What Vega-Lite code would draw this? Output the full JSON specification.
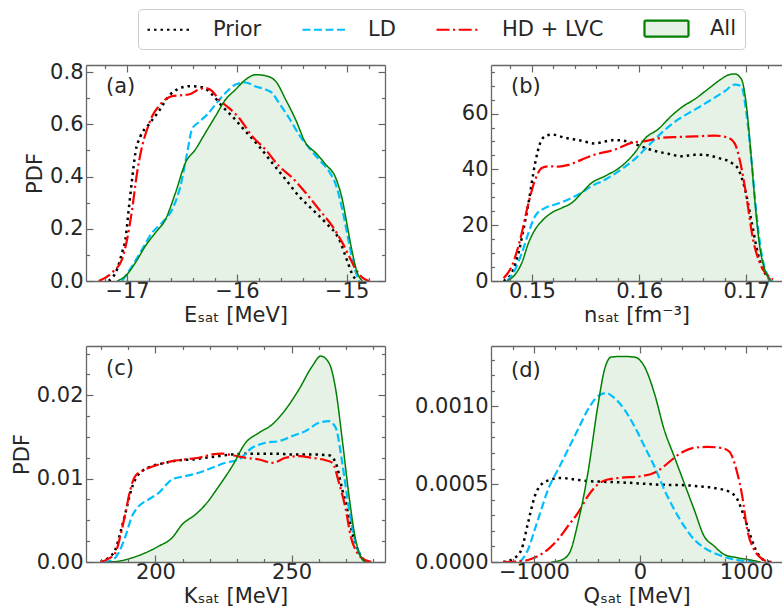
{
"$schema":"https://vega.github.io/schema/vega-lite/v6.json",
"autosize":{"type":"pad"},
"padding":{"left":11,"top":8,"right":0,"bottom":0},
"bounds":"flush",
"data":{"name":"pdf"},
"datasets":{"pdf":[
{"p":"a","s":"Prior","x":-17.167,"y":0},{"p":"a","s":"Prior","x":-17.091,"y":0.045},{"p":"a","s":"Prior","x":-17.046,"y":0.108},{"p":"a","s":"Prior","x":-17.015,"y":0.159},{"p":"a","s":"Prior","x":-16.985,"y":0.274},{"p":"a","s":"Prior","x":-16.954,"y":0.389},{"p":"a","s":"Prior","x":-16.924,"y":0.491},{"p":"a","s":"Prior","x":-16.878,"y":0.554},{"p":"a","s":"Prior","x":-16.802,"y":0.599},{"p":"a","s":"Prior","x":-16.711,"y":0.65},{"p":"a","s":"Prior","x":-16.62,"y":0.708},{"p":"a","s":"Prior","x":-16.529,"y":0.736},{"p":"a","s":"Prior","x":-16.422,"y":0.746},{"p":"a","s":"Prior","x":-16.316,"y":0.742},{"p":"a","s":"Prior","x":-16.225,"y":0.714},{"p":"a","s":"Prior","x":-16.134,"y":0.669},{"p":"a","s":"Prior","x":-16.043,"y":0.631},{"p":"a","s":"Prior","x":-15.921,"y":0.573},{"p":"a","s":"Prior","x":-15.799,"y":0.516},{"p":"a","s":"Prior","x":-15.678,"y":0.452},{"p":"a","s":"Prior","x":-15.556,"y":0.389},{"p":"a","s":"Prior","x":-15.435,"y":0.325},{"p":"a","s":"Prior","x":-15.313,"y":0.274},{"p":"a","s":"Prior","x":-15.191,"y":0.223},{"p":"a","s":"Prior","x":-15.07,"y":0.16},{"p":"a","s":"Prior","x":-14.994,"y":0.076},{"p":"a","s":"Prior","x":-14.948,"y":0.025},{"p":"a","s":"Prior","x":-14.903,"y":0},
{"p":"a","s":"LD","x":-17.046,"y":0},{"p":"a","s":"LD","x":-16.954,"y":0.057},{"p":"a","s":"LD","x":-16.863,"y":0.121},{"p":"a","s":"LD","x":-16.772,"y":0.185},{"p":"a","s":"LD","x":-16.681,"y":0.223},{"p":"a","s":"LD","x":-16.59,"y":0.274},{"p":"a","s":"LD","x":-16.514,"y":0.363},{"p":"a","s":"LD","x":-16.453,"y":0.49},{"p":"a","s":"LD","x":-16.407,"y":0.583},{"p":"a","s":"LD","x":-16.347,"y":0.608},{"p":"a","s":"LD","x":-16.271,"y":0.637},{"p":"a","s":"LD","x":-16.195,"y":0.676},{"p":"a","s":"LD","x":-16.103,"y":0.72},{"p":"a","s":"LD","x":-16.012,"y":0.752},{"p":"a","s":"LD","x":-15.921,"y":0.76},{"p":"a","s":"LD","x":-15.83,"y":0.745},{"p":"a","s":"LD","x":-15.739,"y":0.733},{"p":"a","s":"LD","x":-15.678,"y":0.72},{"p":"a","s":"LD","x":-15.617,"y":0.682},{"p":"a","s":"LD","x":-15.526,"y":0.625},{"p":"a","s":"LD","x":-15.435,"y":0.561},{"p":"a","s":"LD","x":-15.343,"y":0.51},{"p":"a","s":"LD","x":-15.252,"y":0.465},{"p":"a","s":"LD","x":-15.161,"y":0.42},{"p":"a","s":"LD","x":-15.1,"y":0.37},{"p":"a","s":"LD","x":-15.04,"y":0.274},{"p":"a","s":"LD","x":-14.979,"y":0.146},{"p":"a","s":"LD","x":-14.933,"y":0.057},{"p":"a","s":"LD","x":-14.887,"y":0},
{"p":"a","s":"HD + LVC","x":-17.258,"y":0},{"p":"a","s":"HD + LVC","x":-17.137,"y":0.032},{"p":"a","s":"HD + LVC","x":-17.046,"y":0.083},{"p":"a","s":"HD + LVC","x":-17.0,"y":0.159},{"p":"a","s":"HD + LVC","x":-16.954,"y":0.274},{"p":"a","s":"HD + LVC","x":-16.909,"y":0.414},{"p":"a","s":"HD + LVC","x":-16.863,"y":0.516},{"p":"a","s":"HD + LVC","x":-16.818,"y":0.58},{"p":"a","s":"HD + LVC","x":-16.772,"y":0.631},{"p":"a","s":"HD + LVC","x":-16.711,"y":0.669},{"p":"a","s":"HD + LVC","x":-16.65,"y":0.695},{"p":"a","s":"HD + LVC","x":-16.59,"y":0.708},{"p":"a","s":"HD + LVC","x":-16.514,"y":0.711},{"p":"a","s":"HD + LVC","x":-16.438,"y":0.714},{"p":"a","s":"HD + LVC","x":-16.347,"y":0.733},{"p":"a","s":"HD + LVC","x":-16.286,"y":0.739},{"p":"a","s":"HD + LVC","x":-16.225,"y":0.727},{"p":"a","s":"HD + LVC","x":-16.164,"y":0.695},{"p":"a","s":"HD + LVC","x":-16.073,"y":0.663},{"p":"a","s":"HD + LVC","x":-15.982,"y":0.625},{"p":"a","s":"HD + LVC","x":-15.86,"y":0.554},{"p":"a","s":"HD + LVC","x":-15.739,"y":0.503},{"p":"a","s":"HD + LVC","x":-15.617,"y":0.44},{"p":"a","s":"HD + LVC","x":-15.495,"y":0.395},{"p":"a","s":"HD + LVC","x":-15.374,"y":0.338},{"p":"a","s":"HD + LVC","x":-15.252,"y":0.274},{"p":"a","s":"HD + LVC","x":-15.131,"y":0.21},{"p":"a","s":"HD + LVC","x":-15.04,"y":0.147},{"p":"a","s":"HD + LVC","x":-14.979,"y":0.096},{"p":"a","s":"HD + LVC","x":-14.918,"y":0.045},{"p":"a","s":"HD + LVC","x":-14.857,"y":0.013},{"p":"a","s":"HD + LVC","x":-14.796,"y":0},
{"p":"a","s":"All","x":-17.091,"y":0},{"p":"a","s":"All","x":-17.015,"y":0.019},{"p":"a","s":"All","x":-16.924,"y":0.07},{"p":"a","s":"All","x":-16.833,"y":0.134},{"p":"a","s":"All","x":-16.742,"y":0.185},{"p":"a","s":"All","x":-16.65,"y":0.236},{"p":"a","s":"All","x":-16.559,"y":0.338},{"p":"a","s":"All","x":-16.468,"y":0.453},{"p":"a","s":"All","x":-16.377,"y":0.504},{"p":"a","s":"All","x":-16.286,"y":0.568},{"p":"a","s":"All","x":-16.195,"y":0.631},{"p":"a","s":"All","x":-16.103,"y":0.695},{"p":"a","s":"All","x":-16.012,"y":0.733},{"p":"a","s":"All","x":-15.921,"y":0.771},{"p":"a","s":"All","x":-15.83,"y":0.79},{"p":"a","s":"All","x":-15.739,"y":0.786},{"p":"a","s":"All","x":-15.647,"y":0.765},{"p":"a","s":"All","x":-15.556,"y":0.695},{"p":"a","s":"All","x":-15.465,"y":0.618},{"p":"a","s":"All","x":-15.374,"y":0.529},{"p":"a","s":"All","x":-15.283,"y":0.491},{"p":"a","s":"All","x":-15.191,"y":0.446},{"p":"a","s":"All","x":-15.1,"y":0.395},{"p":"a","s":"All","x":-15.04,"y":0.312},{"p":"a","s":"All","x":-14.994,"y":0.21},{"p":"a","s":"All","x":-14.948,"y":0.108},{"p":"a","s":"All","x":-14.903,"y":0.032},{"p":"a","s":"All","x":-14.857,"y":0},
{"p":"b","s":"Prior","x":0.14736,"y":0},{"p":"b","s":"Prior","x":0.14814,"y":3.0},{"p":"b","s":"Prior","x":0.14876,"y":10.1},{"p":"b","s":"Prior","x":0.14922,"y":18.5},{"p":"b","s":"Prior","x":0.14969,"y":28.0},{"p":"b","s":"Prior","x":0.15031,"y":42.3},{"p":"b","s":"Prior","x":0.15078,"y":49.5},{"p":"b","s":"Prior","x":0.15124,"y":51.9},{"p":"b","s":"Prior","x":0.15186,"y":52.5},{"p":"b","s":"Prior","x":0.1531,"y":51.3},{"p":"b","s":"Prior","x":0.15434,"y":50.5},{"p":"b","s":"Prior","x":0.15589,"y":49.3},{"p":"b","s":"Prior","x":0.15682,"y":50.0},{"p":"b","s":"Prior","x":0.15775,"y":50.5},{"p":"b","s":"Prior","x":0.15899,"y":49.9},{"p":"b","s":"Prior","x":0.16022,"y":48.2},{"p":"b","s":"Prior","x":0.16147,"y":46.6},{"p":"b","s":"Prior","x":0.16271,"y":45.6},{"p":"b","s":"Prior","x":0.16395,"y":44.7},{"p":"b","s":"Prior","x":0.1652,"y":45.2},{"p":"b","s":"Prior","x":0.16612,"y":45.2},{"p":"b","s":"Prior","x":0.16736,"y":44.1},{"p":"b","s":"Prior","x":0.1686,"y":42.4},{"p":"b","s":"Prior","x":0.16922,"y":40.2},{"p":"b","s":"Prior","x":0.16984,"y":33.4},{"p":"b","s":"Prior","x":0.17047,"y":21.5},{"p":"b","s":"Prior","x":0.17109,"y":9.5},{"p":"b","s":"Prior","x":0.17171,"y":3.0},{"p":"b","s":"Prior","x":0.17233,"y":0},
{"p":"b","s":"LD","x":0.14767,"y":0},{"p":"b","s":"LD","x":0.14845,"y":4.2},{"p":"b","s":"LD","x":0.14907,"y":10.1},{"p":"b","s":"LD","x":0.14969,"y":17.3},{"p":"b","s":"LD","x":0.15031,"y":23.3},{"p":"b","s":"LD","x":0.15124,"y":26.2},{"p":"b","s":"LD","x":0.15217,"y":27.4},{"p":"b","s":"LD","x":0.15341,"y":29.2},{"p":"b","s":"LD","x":0.15434,"y":31.0},{"p":"b","s":"LD","x":0.15558,"y":34.0},{"p":"b","s":"LD","x":0.15682,"y":36.3},{"p":"b","s":"LD","x":0.15837,"y":40.1},{"p":"b","s":"LD","x":0.1596,"y":43.7},{"p":"b","s":"LD","x":0.16084,"y":48.4},{"p":"b","s":"LD","x":0.16209,"y":53.1},{"p":"b","s":"LD","x":0.16364,"y":57.9},{"p":"b","s":"LD","x":0.1652,"y":61.4},{"p":"b","s":"LD","x":0.16674,"y":65.0},{"p":"b","s":"LD","x":0.16798,"y":68.0},{"p":"b","s":"LD","x":0.16891,"y":70.4},{"p":"b","s":"LD","x":0.16953,"y":69.8},{"p":"b","s":"LD","x":0.17,"y":60.2},{"p":"b","s":"LD","x":0.17047,"y":43.5},{"p":"b","s":"LD","x":0.17093,"y":24.4},{"p":"b","s":"LD","x":0.1714,"y":10.1},{"p":"b","s":"LD","x":0.17202,"y":1.8},{"p":"b","s":"LD","x":0.17248,"y":0},
{"p":"b","s":"HD + LVC","x":0.14736,"y":1.0},{"p":"b","s":"HD + LVC","x":0.14814,"y":5.4},{"p":"b","s":"HD + LVC","x":0.14891,"y":14.9},{"p":"b","s":"HD + LVC","x":0.14969,"y":28.0},{"p":"b","s":"HD + LVC","x":0.15031,"y":36.3},{"p":"b","s":"HD + LVC","x":0.15093,"y":40.5},{"p":"b","s":"HD + LVC","x":0.15155,"y":41.1},{"p":"b","s":"HD + LVC","x":0.15248,"y":41.0},{"p":"b","s":"HD + LVC","x":0.15341,"y":41.6},{"p":"b","s":"HD + LVC","x":0.15465,"y":43.5},{"p":"b","s":"HD + LVC","x":0.15589,"y":45.3},{"p":"b","s":"HD + LVC","x":0.15775,"y":47.1},{"p":"b","s":"HD + LVC","x":0.15929,"y":49.5},{"p":"b","s":"HD + LVC","x":0.16053,"y":50.1},{"p":"b","s":"HD + LVC","x":0.16209,"y":51.3},{"p":"b","s":"HD + LVC","x":0.16364,"y":51.6},{"p":"b","s":"HD + LVC","x":0.1652,"y":51.8},{"p":"b","s":"HD + LVC","x":0.16705,"y":52.1},{"p":"b","s":"HD + LVC","x":0.1683,"y":51.3},{"p":"b","s":"HD + LVC","x":0.16891,"y":49.3},{"p":"b","s":"HD + LVC","x":0.16938,"y":43.4},{"p":"b","s":"HD + LVC","x":0.17,"y":30.4},{"p":"b","s":"HD + LVC","x":0.17062,"y":14.9},{"p":"b","s":"HD + LVC","x":0.17124,"y":6.6},{"p":"b","s":"HD + LVC","x":0.17202,"y":1.8},{"p":"b","s":"HD + LVC","x":0.17248,"y":0.6},
{"p":"b","s":"All","x":0.14767,"y":0},{"p":"b","s":"All","x":0.14845,"y":2.4},{"p":"b","s":"All","x":0.14907,"y":6.6},{"p":"b","s":"All","x":0.14969,"y":13.7},{"p":"b","s":"All","x":0.15031,"y":18.5},{"p":"b","s":"All","x":0.15093,"y":21.5},{"p":"b","s":"All","x":0.15186,"y":24.5},{"p":"b","s":"All","x":0.15279,"y":26.2},{"p":"b","s":"All","x":0.15372,"y":28.0},{"p":"b","s":"All","x":0.15465,"y":31.6},{"p":"b","s":"All","x":0.15558,"y":35.2},{"p":"b","s":"All","x":0.15682,"y":37.6},{"p":"b","s":"All","x":0.15837,"y":41.2},{"p":"b","s":"All","x":0.1596,"y":46.0},{"p":"b","s":"All","x":0.16053,"y":51.0},{"p":"b","s":"All","x":0.16178,"y":54.4},{"p":"b","s":"All","x":0.16302,"y":59.2},{"p":"b","s":"All","x":0.16395,"y":62.2},{"p":"b","s":"All","x":0.1652,"y":65.2},{"p":"b","s":"All","x":0.16643,"y":68.8},{"p":"b","s":"All","x":0.16767,"y":72.4},{"p":"b","s":"All","x":0.16829,"y":73.8},{"p":"b","s":"All","x":0.16891,"y":74.2},{"p":"b","s":"All","x":0.16953,"y":72.4},{"p":"b","s":"All","x":0.17,"y":62.9},{"p":"b","s":"All","x":0.17047,"y":43.5},{"p":"b","s":"All","x":0.17078,"y":29.2},{"p":"b","s":"All","x":0.17124,"y":12.5},{"p":"b","s":"All","x":0.17171,"y":4.2},{"p":"b","s":"All","x":0.17233,"y":0},
{"p":"c","s":"Prior","x":179.8,"y":0},{"p":"c","s":"Prior","x":182.8,"y":0.00052},{"p":"c","s":"Prior","x":185.3,"y":0.0015},{"p":"c","s":"Prior","x":187.1,"y":0.0035},{"p":"c","s":"Prior","x":189.0,"y":0.0059},{"p":"c","s":"Prior","x":190.8,"y":0.0083},{"p":"c","s":"Prior","x":192.6,"y":0.0099},{"p":"c","s":"Prior","x":195.1,"y":0.0109},{"p":"c","s":"Prior","x":198.8,"y":0.0115},{"p":"c","s":"Prior","x":203.7,"y":0.0119},{"p":"c","s":"Prior","x":208.6,"y":0.0122},{"p":"c","s":"Prior","x":213.5,"y":0.0123},{"p":"c","s":"Prior","x":218.4,"y":0.0125},{"p":"c","s":"Prior","x":223.3,"y":0.0127},{"p":"c","s":"Prior","x":228.2,"y":0.0129},{"p":"c","s":"Prior","x":233.1,"y":0.013},{"p":"c","s":"Prior","x":238.0,"y":0.013},{"p":"c","s":"Prior","x":244.1,"y":0.013},{"p":"c","s":"Prior","x":250.2,"y":0.0129},{"p":"c","s":"Prior","x":257.6,"y":0.0129},{"p":"c","s":"Prior","x":263.7,"y":0.0128},{"p":"c","s":"Prior","x":266.2,"y":0.0119},{"p":"c","s":"Prior","x":268.6,"y":0.0087},{"p":"c","s":"Prior","x":270.5,"y":0.0063},{"p":"c","s":"Prior","x":272.3,"y":0.0035},{"p":"c","s":"Prior","x":274.8,"y":0.0011},{"p":"c","s":"Prior","x":277.2,"y":0.0001},{"p":"c","s":"Prior","x":278.4,"y":0},
{"p":"c","s":"LD","x":181.0,"y":0},{"p":"c","s":"LD","x":184.1,"y":0.0002},{"p":"c","s":"LD","x":186.5,"y":0.0011},{"p":"c","s":"LD","x":189.0,"y":0.0031},{"p":"c","s":"LD","x":191.4,"y":0.0055},{"p":"c","s":"LD","x":193.9,"y":0.0067},{"p":"c","s":"LD","x":197.5,"y":0.0075},{"p":"c","s":"LD","x":201.2,"y":0.0083},{"p":"c","s":"LD","x":206.1,"y":0.0099},{"p":"c","s":"LD","x":211.0,"y":0.0103},{"p":"c","s":"LD","x":215.9,"y":0.0107},{"p":"c","s":"LD","x":220.8,"y":0.0113},{"p":"c","s":"LD","x":225.7,"y":0.0119},{"p":"c","s":"LD","x":230.6,"y":0.0123},{"p":"c","s":"LD","x":235.5,"y":0.0137},{"p":"c","s":"LD","x":240.4,"y":0.0143},{"p":"c","s":"LD","x":245.3,"y":0.0145},{"p":"c","s":"LD","x":250.2,"y":0.0151},{"p":"c","s":"LD","x":255.1,"y":0.0157},{"p":"c","s":"LD","x":260.0,"y":0.0167},{"p":"c","s":"LD","x":263.7,"y":0.0169},{"p":"c","s":"LD","x":266.2,"y":0.0161},{"p":"c","s":"LD","x":268.6,"y":0.0119},{"p":"c","s":"LD","x":271.1,"y":0.0063},{"p":"c","s":"LD","x":273.5,"y":0.0023},{"p":"c","s":"LD","x":276.0,"y":0.0005},{"p":"c","s":"LD","x":277.2,"y":0},
{"p":"c","s":"HD + LVC","x":179.8,"y":0},{"p":"c","s":"HD + LVC","x":182.8,"y":0.0004},{"p":"c","s":"HD + LVC","x":185.3,"y":0.0011},{"p":"c","s":"HD + LVC","x":187.1,"y":0.0031},{"p":"c","s":"HD + LVC","x":189.0,"y":0.0059},{"p":"c","s":"HD + LVC","x":190.8,"y":0.0087},{"p":"c","s":"HD + LVC","x":192.6,"y":0.0103},{"p":"c","s":"HD + LVC","x":196.3,"y":0.0111},{"p":"c","s":"HD + LVC","x":201.2,"y":0.0117},{"p":"c","s":"HD + LVC","x":206.1,"y":0.0121},{"p":"c","s":"HD + LVC","x":211.0,"y":0.0123},{"p":"c","s":"HD + LVC","x":215.9,"y":0.0125},{"p":"c","s":"HD + LVC","x":220.8,"y":0.0129},{"p":"c","s":"HD + LVC","x":224.5,"y":0.013},{"p":"c","s":"HD + LVC","x":228.2,"y":0.0128},{"p":"c","s":"HD + LVC","x":233.1,"y":0.0125},{"p":"c","s":"HD + LVC","x":238.0,"y":0.0123},{"p":"c","s":"HD + LVC","x":242.9,"y":0.0119},{"p":"c","s":"HD + LVC","x":247.8,"y":0.0125},{"p":"c","s":"HD + LVC","x":252.7,"y":0.0127},{"p":"c","s":"HD + LVC","x":257.6,"y":0.0125},{"p":"c","s":"HD + LVC","x":262.5,"y":0.0122},{"p":"c","s":"HD + LVC","x":265.0,"y":0.0119},{"p":"c","s":"HD + LVC","x":267.4,"y":0.0095},{"p":"c","s":"HD + LVC","x":269.9,"y":0.0063},{"p":"c","s":"HD + LVC","x":271.7,"y":0.0031},{"p":"c","s":"HD + LVC","x":274.1,"y":0.0011},{"p":"c","s":"HD + LVC","x":277.2,"y":0.0002},{"p":"c","s":"HD + LVC","x":279.7,"y":0},
{"p":"c","s":"All","x":182.8,"y":0},{"p":"c","s":"All","x":186.5,"y":0.0001},{"p":"c","s":"All","x":191.4,"y":0.0005},{"p":"c","s":"All","x":196.3,"y":0.0011},{"p":"c","s":"All","x":201.2,"y":0.0019},{"p":"c","s":"All","x":206.1,"y":0.0029},{"p":"c","s":"All","x":209.8,"y":0.0045},{"p":"c","s":"All","x":214.7,"y":0.0057},{"p":"c","s":"All","x":218.4,"y":0.0069},{"p":"c","s":"All","x":223.3,"y":0.0091},{"p":"c","s":"All","x":228.2,"y":0.0115},{"p":"c","s":"All","x":233.1,"y":0.0143},{"p":"c","s":"All","x":238.0,"y":0.0155},{"p":"c","s":"All","x":242.9,"y":0.0165},{"p":"c","s":"All","x":247.8,"y":0.0183},{"p":"c","s":"All","x":252.7,"y":0.0207},{"p":"c","s":"All","x":257.6,"y":0.0235},{"p":"c","s":"All","x":260.7,"y":0.0247},{"p":"c","s":"All","x":263.7,"y":0.0239},{"p":"c","s":"All","x":266.2,"y":0.0207},{"p":"c","s":"All","x":268.6,"y":0.0147},{"p":"c","s":"All","x":271.1,"y":0.0079},{"p":"c","s":"All","x":273.5,"y":0.0027},{"p":"c","s":"All","x":276.0,"y":0.0003},{"p":"c","s":"All","x":277.2,"y":0},
{"p":"d","s":"Prior","x":-1290,"y":0},{"p":"d","s":"Prior","x":-1180,"y":0.0000278},{"p":"d","s":"Prior","x":-1117,"y":0.0000812},{"p":"d","s":"Prior","x":-1055,"y":0.000254},{"p":"d","s":"Prior","x":-992,"y":0.000423},{"p":"d","s":"Prior","x":-930,"y":0.000498},{"p":"d","s":"Prior","x":-836,"y":0.00053},{"p":"d","s":"Prior","x":-742,"y":0.00054},{"p":"d","s":"Prior","x":-617,"y":0.00053},{"p":"d","s":"Prior","x":-491,"y":0.00052},{"p":"d","s":"Prior","x":-335,"y":0.000515},{"p":"d","s":"Prior","x":-178,"y":0.000511},{"p":"d","s":"Prior","x":9,"y":0.000504},{"p":"d","s":"Prior","x":197,"y":0.000496},{"p":"d","s":"Prior","x":385,"y":0.000494},{"p":"d","s":"Prior","x":573,"y":0.000485},{"p":"d","s":"Prior","x":729,"y":0.000472},{"p":"d","s":"Prior","x":854,"y":0.000447},{"p":"d","s":"Prior","x":917,"y":0.000404},{"p":"d","s":"Prior","x":980,"y":0.000295},{"p":"d","s":"Prior","x":1042,"y":0.000167},{"p":"d","s":"Prior","x":1105,"y":0.0000598},{"p":"d","s":"Prior","x":1167,"y":0.0000128},{"p":"d","s":"Prior","x":1230,"y":0},
{"p":"d","s":"LD","x":-1133,"y":0},{"p":"d","s":"LD","x":-1055,"y":0.0000812},{"p":"d","s":"LD","x":-992,"y":0.000209},{"p":"d","s":"LD","x":-930,"y":0.000338},{"p":"d","s":"LD","x":-867,"y":0.000466},{"p":"d","s":"LD","x":-773,"y":0.000594},{"p":"d","s":"LD","x":-679,"y":0.000722},{"p":"d","s":"LD","x":-585,"y":0.000851},{"p":"d","s":"LD","x":-491,"y":0.000979},{"p":"d","s":"LD","x":-398,"y":0.001064},{"p":"d","s":"LD","x":-319,"y":0.001085},{"p":"d","s":"LD","x":-241,"y":0.001053},{"p":"d","s":"LD","x":-147,"y":0.000979},{"p":"d","s":"LD","x":-53,"y":0.000872},{"p":"d","s":"LD","x":41,"y":0.000744},{"p":"d","s":"LD","x":135,"y":0.000615},{"p":"d","s":"LD","x":228,"y":0.000466},{"p":"d","s":"LD","x":322,"y":0.000338},{"p":"d","s":"LD","x":416,"y":0.000231},{"p":"d","s":"LD","x":510,"y":0.000145},{"p":"d","s":"LD","x":604,"y":0.0000919},{"p":"d","s":"LD","x":729,"y":0.0000491},{"p":"d","s":"LD","x":854,"y":0.0000214},{"p":"d","s":"LD","x":980,"y":0.0000064},{"p":"d","s":"LD","x":1074,"y":0},
{"p":"d","s":"HD + LVC","x":-1290,"y":0},{"p":"d","s":"HD + LVC","x":-1149,"y":0.0000043},{"p":"d","s":"HD + LVC","x":-1055,"y":0.0000128},{"p":"d","s":"HD + LVC","x":-961,"y":0.0000385},{"p":"d","s":"HD + LVC","x":-867,"y":0.0000812},{"p":"d","s":"HD + LVC","x":-773,"y":0.000145},{"p":"d","s":"HD + LVC","x":-679,"y":0.000231},{"p":"d","s":"HD + LVC","x":-585,"y":0.000316},{"p":"d","s":"HD + LVC","x":-491,"y":0.000423},{"p":"d","s":"HD + LVC","x":-398,"y":0.000498},{"p":"d","s":"HD + LVC","x":-304,"y":0.00053},{"p":"d","s":"HD + LVC","x":-178,"y":0.000541},{"p":"d","s":"HD + LVC","x":9,"y":0.000551},{"p":"d","s":"HD + LVC","x":135,"y":0.000573},{"p":"d","s":"HD + LVC","x":228,"y":0.000615},{"p":"d","s":"HD + LVC","x":322,"y":0.000669},{"p":"d","s":"HD + LVC","x":416,"y":0.000711},{"p":"d","s":"HD + LVC","x":510,"y":0.000733},{"p":"d","s":"HD + LVC","x":635,"y":0.000739},{"p":"d","s":"HD + LVC","x":761,"y":0.000733},{"p":"d","s":"HD + LVC","x":839,"y":0.000711},{"p":"d","s":"HD + LVC","x":917,"y":0.000572},{"p":"d","s":"HD + LVC","x":964,"y":0.000423},{"p":"d","s":"HD + LVC","x":1011,"y":0.000209},{"p":"d","s":"HD + LVC","x":1074,"y":0.0000812},{"p":"d","s":"HD + LVC","x":1136,"y":0.0000278},{"p":"d","s":"HD + LVC","x":1199,"y":0.0000043},{"p":"d","s":"HD + LVC","x":1261,"y":0},
{"p":"d","s":"All","x":-836,"y":0},{"p":"d","s":"All","x":-742,"y":0.0000128},{"p":"d","s":"All","x":-664,"y":0.0000598},{"p":"d","s":"All","x":-585,"y":0.000252},{"p":"d","s":"All","x":-491,"y":0.000573},{"p":"d","s":"All","x":-398,"y":0.001},{"p":"d","s":"All","x":-335,"y":0.001235},{"p":"d","s":"All","x":-272,"y":0.001316},{"p":"d","s":"All","x":-178,"y":0.00132},{"p":"d","s":"All","x":-53,"y":0.001316},{"p":"d","s":"All","x":41,"y":0.001256},{"p":"d","s":"All","x":135,"y":0.001085},{"p":"d","s":"All","x":228,"y":0.00085},{"p":"d","s":"All","x":322,"y":0.000679},{"p":"d","s":"All","x":416,"y":0.000508},{"p":"d","s":"All","x":510,"y":0.000338},{"p":"d","s":"All","x":604,"y":0.000167},{"p":"d","s":"All","x":698,"y":0.000103},{"p":"d","s":"All","x":792,"y":0.0000491},{"p":"d","s":"All","x":917,"y":0.0000278},{"p":"d","s":"All","x":1042,"y":0.0000128},{"p":"d","s":"All","x":1136,"y":0}
]},
"config":{
"view":{"stroke":null},
"font":"DejaVu Sans",
"axis":{"labelFont":"DejaVu Sans","labelFontSize":21,"labelColor":"#262626","titleFont":"DejaVu Sans","titleFontSize":21,"titleFontWeight":"normal","titleColor":"#262626","domainColor":"#666666","domainWidth":1.3,"tickColor":"#666666","tickWidth":1.2,"grid":false,"labelFlush":false,"labelOverlap":false},
"legend":{"orient":"none","legendX":52,"legendY":-56,"direction":"horizontal","columns":4,"symbolSize":400,"symbolOffset":12,"symbolStrokeWidth":2.2,"labelFont":"DejaVu Sans","labelFontSize":21,"labelColor":"#262626","labelOffset":32,"columnPadding":36,"padding":8,"strokeColor":"#cccccc","fillColor":"white","cornerRadius":4,"labelLimit":300},
"title":{"font":"DejaVu Sans","fontSize":21,"fontWeight":"normal","color":"#262626","anchor":"start","frame":"group","offset":-36,"dx":20}
},
"columns":2,
"spacing":{"row":65,"column":106},
"concat":[
{"width":299,"height":216,"title":"(a)","transform":[{"filter":"datum.p==='a'"}],"resolve":{"axis":{"x":"independent","y":"independent"}},
"layer":[
{"transform":[{"filter":"datum.s==='All'"}],"mark":{"type":"area","interpolate":"monotone","color":"green","fillOpacity":0.1,"clip":true},
"encoding":{"x":{"field":"x","type":"quantitative","scale":{"domain":[-17.374,-14.651],"nice":false,"zero":false},"axis":{"orient":"bottom","zindex":1,"values":[-17.2,-17,-16.8,-16.6,-16.4,-16.2,-16,-15.8,-15.6,-15.4,-15.2,-15,-14.8],"format":".0f","labelExpr":"abs(datum.value-round(datum.value))<0.001 ? datum.label : ''","tickSize":{"condition":{"test":"abs(datum.value-round(datum.value))<0.001","value":-7},"value":-3.5},"labelPadding":6,"title":"Eₛₐₜ [MeV]","titlePadding":0}},
"y":{"field":"y","type":"quantitative","scale":{"domain":[0,0.827],"nice":false},"axis":{"orient":"left","zindex":1,"values":[0,0.1,0.2,0.3,0.4,0.5,0.6,0.7,0.8],"format":".1f","labelExpr":"abs(datum.value*5-round(datum.value*5))<0.001 ? datum.label : ''","tickSize":{"condition":{"test":"abs(datum.value*5-round(datum.value*5))<0.001","value":-7},"value":-3.5},"labelPadding":10,"title":"PDF","titlePadding":4}}}},
{"transform":[{"filter":"datum.s==='Prior'"}],"mark":{"type":"line","interpolate":"monotone","strokeWidth":2.5,"clip":true},
"encoding":{"x":{"field":"x","type":"quantitative","scale":{"domain":[-17.374,-14.651],"nice":false,"zero":false},"axis":{"orient":"top","zindex":1,"values":[-17.2,-17,-16.8,-16.6,-16.4,-16.2,-16,-15.8,-15.6,-15.4,-15.2,-15,-14.8],"labels":false,"title":null,"tickSize":{"condition":{"test":"abs(datum.value-round(datum.value))<0.001","value":-7},"value":-3.5}}},
"y":{"field":"y","type":"quantitative","scale":{"domain":[0,0.827],"nice":false},"axis":{"orient":"right","zindex":1,"values":[0,0.1,0.2,0.3,0.4,0.5,0.6,0.7,0.8],"labels":false,"title":null,"tickSize":{"condition":{"test":"abs(datum.value*5-round(datum.value*5))<0.001","value":-7},"value":-3.5}}},
"color":{"field":"s","type":"nominal","scale":{"domain":["Prior","LD","HD + LVC","All"],"range":["black","#00bfff","red","green"]},"legend":{"title":null,"encode":{"symbols":{"update":{"shape":{"signal":"datum.value === 'All' ? 'M-2.2,-0.8H2.2V0.8H-2.2Z' : 'M-2.2,0H2.2'"},"fill":{"signal":"datum.value === 'All' ? '#e6f2e6' : 'transparent'"}}}}}},
"strokeDash":{"field":"s","type":"nominal","scale":{"domain":["Prior","LD","HD + LVC","All"],"range":[[2.5,4],[8,3.5],[13,3.5,2.2,3.5],[1,0]]},"legend":{"title":null}}}},
{"transform":[{"filter":"datum.s==='LD'"}],"mark":{"type":"line","interpolate":"monotone","strokeWidth":2.2,"clip":true},
"encoding":{"x":{"field":"x","type":"quantitative","scale":{"domain":[-17.374,-14.651],"nice":false,"zero":false},"axis":null},"y":{"field":"y","type":"quantitative","scale":{"domain":[0,0.827],"nice":false},"axis":null},"color":{"field":"s","type":"nominal","legend":{"title":null}},"strokeDash":{"field":"s","type":"nominal","legend":{"title":null}}}},
{"transform":[{"filter":"datum.s==='HD + LVC'"}],"mark":{"type":"line","interpolate":"monotone","strokeWidth":2.2,"clip":true},
"encoding":{"x":{"field":"x","type":"quantitative","scale":{"domain":[-17.374,-14.651],"nice":false,"zero":false},"axis":null},"y":{"field":"y","type":"quantitative","scale":{"domain":[0,0.827],"nice":false},"axis":null},"color":{"field":"s","type":"nominal","legend":{"title":null}},"strokeDash":{"field":"s","type":"nominal","legend":{"title":null}}}},
{"transform":[{"filter":"datum.s==='All'"}],"mark":{"type":"line","interpolate":"monotone","strokeWidth":1.5,"clip":true},
"encoding":{"x":{"field":"x","type":"quantitative","scale":{"domain":[-17.374,-14.651],"nice":false,"zero":false},"axis":null},"y":{"field":"y","type":"quantitative","scale":{"domain":[0,0.827],"nice":false},"axis":null},"color":{"field":"s","type":"nominal","legend":{"title":null}},"strokeDash":{"field":"s","type":"nominal","legend":{"title":null}}}}
]},
{"width":291,"height":216,"title":"(b)","transform":[{"filter":"datum.p==='b'"}],"resolve":{"axis":{"x":"independent","y":"independent"}},
"layer":[
{"transform":[{"filter":"datum.s==='All'"}],"mark":{"type":"area","interpolate":"monotone","color":"green","fillOpacity":0.1,"clip":true},
"encoding":{"x":{"field":"x","type":"quantitative","scale":{"domain":[0.14619,0.17332],"nice":false,"zero":false},"axis":{"orient":"bottom","zindex":1,"values":[0.148,0.15,0.152,0.154,0.156,0.158,0.16,0.162,0.164,0.166,0.168,0.17,0.172],"format":".2f","labelExpr":"abs(datum.value*100-round(datum.value*100))<0.001 ? datum.label : ''","tickSize":{"condition":{"test":"abs(datum.value*100-round(datum.value*100))<0.001","value":-7},"value":-3.5},"labelPadding":6,"title":"nₛₐₜ [fm⁻³]","titlePadding":0}},
"y":{"field":"y","type":"quantitative","scale":{"domain":[0,77.4],"nice":false},"axis":{"orient":"left","zindex":1,"values":[0,5,10,15,20,25,30,35,40,45,50,55,60,65,70,75],"format":"d","labelExpr":"datum.value%20==0 ? datum.label : ''","tickSize":{"condition":{"test":"datum.value%20==0","value":-7},"value":-3.5},"labelPadding":10,"title":null}}}},
{"transform":[{"filter":"datum.s==='Prior'"}],"mark":{"type":"line","interpolate":"monotone","strokeWidth":2.5,"clip":true},
"encoding":{"x":{"field":"x","type":"quantitative","scale":{"domain":[0.14619,0.17332],"nice":false,"zero":false},"axis":{"orient":"top","zindex":1,"values":[0.148,0.15,0.152,0.154,0.156,0.158,0.16,0.162,0.164,0.166,0.168,0.17,0.172],"labels":false,"title":null,"tickSize":{"condition":{"test":"abs(datum.value*100-round(datum.value*100))<0.001","value":-7},"value":-3.5}}},
"y":{"field":"y","type":"quantitative","scale":{"domain":[0,77.4],"nice":false},"axis":null},
"color":{"field":"s","type":"nominal","legend":{"title":null}},"strokeDash":{"field":"s","type":"nominal","legend":{"title":null}}}},
{"transform":[{"filter":"datum.s==='LD'"}],"mark":{"type":"line","interpolate":"monotone","strokeWidth":2.2,"clip":true},
"encoding":{"x":{"field":"x","type":"quantitative","scale":{"domain":[0.14619,0.17332],"nice":false,"zero":false},"axis":null},"y":{"field":"y","type":"quantitative","scale":{"domain":[0,77.4],"nice":false},"axis":null},"color":{"field":"s","type":"nominal","legend":{"title":null}},"strokeDash":{"field":"s","type":"nominal","legend":{"title":null}}}},
{"transform":[{"filter":"datum.s==='HD + LVC'"}],"mark":{"type":"line","interpolate":"monotone","strokeWidth":2.2,"clip":true},
"encoding":{"x":{"field":"x","type":"quantitative","scale":{"domain":[0.14619,0.17332],"nice":false,"zero":false},"axis":null},"y":{"field":"y","type":"quantitative","scale":{"domain":[0,77.4],"nice":false},"axis":null},"color":{"field":"s","type":"nominal","legend":{"title":null}},"strokeDash":{"field":"s","type":"nominal","legend":{"title":null}}}},
{"transform":[{"filter":"datum.s==='All'"}],"mark":{"type":"line","interpolate":"monotone","strokeWidth":1.5,"clip":true},
"encoding":{"x":{"field":"x","type":"quantitative","scale":{"domain":[0.14619,0.17332],"nice":false,"zero":false},"axis":null},"y":{"field":"y","type":"quantitative","scale":{"domain":[0,77.4],"nice":false},"axis":null},"color":{"field":"s","type":"nominal","legend":{"title":null}},"strokeDash":{"field":"s","type":"nominal","legend":{"title":null}}}}
]},
{"width":299,"height":216,"title":"(c)","transform":[{"filter":"datum.p==='c'"}],"resolve":{"axis":{"x":"independent","y":"independent"}},
"layer":[
{"transform":[{"filter":"datum.s==='All'"}],"mark":{"type":"area","interpolate":"monotone","color":"green","fillOpacity":0.1,"clip":true},
"encoding":{"x":{"field":"x","type":"quantitative","scale":{"domain":[174.5,284.3],"nice":false,"zero":false},"axis":{"orient":"bottom","zindex":1,"values":[180,190,200,210,220,230,240,250,260,270,280],"format":"d","labelExpr":"datum.value%50==0 ? datum.label : ''","tickSize":{"condition":{"test":"datum.value%50==0","value":-7},"value":-3.5},"labelPadding":6,"title":"Kₛₐₜ [MeV]","titlePadding":0}},
"y":{"field":"y","type":"quantitative","scale":{"domain":[0,0.02591],"nice":false},"axis":{"orient":"left","zindex":1,"values":[0,0.0025,0.005,0.0075,0.01,0.0125,0.015,0.0175,0.02,0.0225,0.025],"format":".2f","labelExpr":"abs(datum.value*100-round(datum.value*100))<0.001 ? datum.label : ''","tickSize":{"condition":{"test":"abs(datum.value*100-round(datum.value*100))<0.001","value":-7},"value":-3.5},"labelPadding":10,"title":"PDF","titlePadding":4}}}},
{"transform":[{"filter":"datum.s==='Prior'"}],"mark":{"type":"line","interpolate":"monotone","strokeWidth":2.5,"clip":true},
"encoding":{"x":{"field":"x","type":"quantitative","scale":{"domain":[174.5,284.3],"nice":false,"zero":false},"axis":{"orient":"top","zindex":1,"values":[180,190,200,210,220,230,240,250,260,270,280],"labels":false,"title":null,"tickSize":{"condition":{"test":"datum.value%50==0","value":-7},"value":-3.5}}},
"y":{"field":"y","type":"quantitative","scale":{"domain":[0,0.02591],"nice":false},"axis":{"orient":"right","zindex":1,"values":[0,0.0025,0.005,0.0075,0.01,0.0125,0.015,0.0175,0.02,0.0225,0.025],"labels":false,"title":null,"tickSize":{"condition":{"test":"abs(datum.value*100-round(datum.value*100))<0.001","value":-7},"value":-3.5}}},
"color":{"field":"s","type":"nominal","legend":{"title":null}},"strokeDash":{"field":"s","type":"nominal","legend":{"title":null}}}},
{"transform":[{"filter":"datum.s==='LD'"}],"mark":{"type":"line","interpolate":"monotone","strokeWidth":2.2,"clip":true},
"encoding":{"x":{"field":"x","type":"quantitative","scale":{"domain":[174.5,284.3],"nice":false,"zero":false},"axis":null},"y":{"field":"y","type":"quantitative","scale":{"domain":[0,0.02591],"nice":false},"axis":null},"color":{"field":"s","type":"nominal","legend":{"title":null}},"strokeDash":{"field":"s","type":"nominal","legend":{"title":null}}}},
{"transform":[{"filter":"datum.s==='HD + LVC'"}],"mark":{"type":"line","interpolate":"monotone","strokeWidth":2.2,"clip":true},
"encoding":{"x":{"field":"x","type":"quantitative","scale":{"domain":[174.5,284.3],"nice":false,"zero":false},"axis":null},"y":{"field":"y","type":"quantitative","scale":{"domain":[0,0.02591],"nice":false},"axis":null},"color":{"field":"s","type":"nominal","legend":{"title":null}},"strokeDash":{"field":"s","type":"nominal","legend":{"title":null}}}},
{"transform":[{"filter":"datum.s==='All'"}],"mark":{"type":"line","interpolate":"monotone","strokeWidth":1.5,"clip":true},
"encoding":{"x":{"field":"x","type":"quantitative","scale":{"domain":[174.5,284.3],"nice":false,"zero":false},"axis":null},"y":{"field":"y","type":"quantitative","scale":{"domain":[0,0.02591],"nice":false},"axis":null},"color":{"field":"s","type":"nominal","legend":{"title":null}},"strokeDash":{"field":"s","type":"nominal","legend":{"title":null}}}}
]},
{"width":291,"height":216,"title":"(d)","transform":[{"filter":"datum.p==='d'"}],"resolve":{"axis":{"x":"independent","y":"independent"}},
"layer":[
{"transform":[{"filter":"datum.s==='All'"}],"mark":{"type":"area","interpolate":"monotone","color":"green","fillOpacity":0.1,"clip":true},
"encoding":{"x":{"field":"x","type":"quantitative","scale":{"domain":[-1405,1339],"nice":false,"zero":false},"axis":{"orient":"bottom","zindex":1,"values":[-1200,-1000,-800,-600,-400,-200,0,200,400,600,800,1000,1200],"format":"d","labelExpr":"datum.value%1000==0 ? datum.label : ''","tickSize":{"condition":{"test":"datum.value%1000==0","value":-7},"value":-3.5},"labelPadding":6,"title":"Qₛₐₜ [MeV]","titlePadding":0}},
"y":{"field":"y","type":"quantitative","scale":{"domain":[0,0.001387],"nice":false},"axis":{"orient":"left","zindex":1,"values":[0,0.0001,0.0002,0.0003,0.0004,0.0005,0.0006,0.0007,0.0008,0.0009,0.001,0.0011,0.0012,0.0013],"format":".4f","labelExpr":"abs(datum.value*2000-round(datum.value*2000))<0.001 ? datum.label : ''","tickSize":{"condition":{"test":"abs(datum.value*2000-round(datum.value*2000))<0.001","value":-7},"value":-3.5},"labelPadding":10,"title":null}}}},
{"transform":[{"filter":"datum.s==='Prior'"}],"mark":{"type":"line","interpolate":"monotone","strokeWidth":2.5,"clip":true},
"encoding":{"x":{"field":"x","type":"quantitative","scale":{"domain":[-1405,1339],"nice":false,"zero":false},"axis":{"orient":"top","zindex":1,"values":[-1200,-1000,-800,-600,-400,-200,0,200,400,600,800,1000,1200],"labels":false,"title":null,"tickSize":{"condition":{"test":"datum.value%1000==0","value":-7},"value":-3.5}}},
"y":{"field":"y","type":"quantitative","scale":{"domain":[0,0.001387],"nice":false},"axis":null},
"color":{"field":"s","type":"nominal","legend":{"title":null}},"strokeDash":{"field":"s","type":"nominal","legend":{"title":null}}}},
{"transform":[{"filter":"datum.s==='LD'"}],"mark":{"type":"line","interpolate":"monotone","strokeWidth":2.2,"clip":true},
"encoding":{"x":{"field":"x","type":"quantitative","scale":{"domain":[-1405,1339],"nice":false,"zero":false},"axis":null},"y":{"field":"y","type":"quantitative","scale":{"domain":[0,0.001387],"nice":false},"axis":null},"color":{"field":"s","type":"nominal","legend":{"title":null}},"strokeDash":{"field":"s","type":"nominal","legend":{"title":null}}}},
{"transform":[{"filter":"datum.s==='HD + LVC'"}],"mark":{"type":"line","interpolate":"monotone","strokeWidth":2.2,"clip":true},
"encoding":{"x":{"field":"x","type":"quantitative","scale":{"domain":[-1405,1339],"nice":false,"zero":false},"axis":null},"y":{"field":"y","type":"quantitative","scale":{"domain":[0,0.001387],"nice":false},"axis":null},"color":{"field":"s","type":"nominal","legend":{"title":null}},"strokeDash":{"field":"s","type":"nominal","legend":{"title":null}}}},
{"transform":[{"filter":"datum.s==='All'"}],"mark":{"type":"line","interpolate":"monotone","strokeWidth":1.5,"clip":true},
"encoding":{"x":{"field":"x","type":"quantitative","scale":{"domain":[-1405,1339],"nice":false,"zero":false},"axis":null},"y":{"field":"y","type":"quantitative","scale":{"domain":[0,0.001387],"nice":false},"axis":null},"color":{"field":"s","type":"nominal","legend":{"title":null}},"strokeDash":{"field":"s","type":"nominal","legend":{"title":null}}}}
]}
]
}
